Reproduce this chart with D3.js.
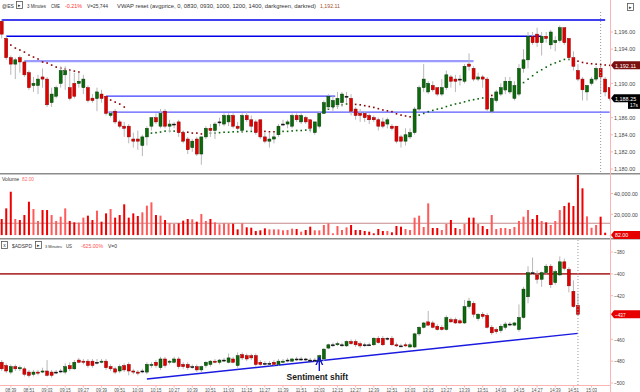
<!DOCTYPE html>
<html><head><meta charset="utf-8">
<script src="https://cdn.jsdelivr.net/npm/d3@7/dist/d3.min.js"></script>
<style>body{margin:0;background:#fff;}svg{display:block;font-family:"Liberation Sans",Arial,sans-serif;}</style>
</head><body><svg id="c" width="640" height="392"></svg>
<script>
// ---------------- DATA ----------------
const esOpen = [1197.25,1195.25,1193,1192.25,1193,1192.5,1191.25,1189.75,1189.75,1190.75,1190.5,1187.75,1188.5,1190,1191,1189.5,1190,1190,1189.5,1189.5,1188.25,1188.25,1188.75,1188.5,1186.25,1186.75,1185.5,1185,1185,1183.5,1183.5,1182.75,1183.75,1185,1186,1185,1186.75,1185,1185.25,1185.5,1184.25,1183.5,1182.5,1183.5,1181.75,1183.75,1184.75,1184.5,1185.5,1185.25,1185.5,1186.25,1185,1184.5,1186.25,1185.75,1185.5,1185.75,1183.75,1183.25,1183.5,1184,1185.25,1185.25,1185,1186.25,1185.5,1186,1185.75,1184.25,1185,1186.5,1187.25,1187.25,1187.5,1187.75,1188.5,1188.25,1187,1186.5,1186.5,1186.25,1186,1185.75,1185.5,1185.25,1185,1185,1183.75,1183.25,1183.75,1184.25,1187,1189.5,1189,1189.75,1189.5,1188.75,1189.5,1190.75,1190.5,1190.5,1190.25,1192.25,1191.75,1190.5,1190.75,1190.5,1186.75,1188,1188.75,1189.25,1189,1188.25,1188.75,1191.75,1192.75,1195.5,1195.75,1194.75,1195.5,1194.5,1194.75,1195,1196.5,1195.25,1193,1191.5,1190.5,1189,1190,1190.5,1191.75,1190.5,1189.5];
const esHigh = [1197.5,1195.5,1193.25,1193,1193.25,1192.75,1191.5,1190.75,1191,1191.75,1190.75,1189.5,1189.75,1192,1192,1191.5,1191.25,1191.25,1191,1189.75,1188.75,1189.5,1189.25,1188.5,1186.75,1187,1185.75,1185.5,1185.25,1184.25,1184.5,1184,1185,1186,1186.5,1187,1187,1185.75,1185.5,1185.75,1184.5,1183.75,1183.5,1183.75,1183.75,1185,1185.25,1185.5,1186,1186.5,1186.5,1186.5,1185.5,1186.5,1186.75,1186.25,1185.75,1185.75,1184.25,1184.25,1184.25,1185.25,1185.75,1185.75,1186.5,1186.5,1186.5,1186.25,1185.75,1185.5,1186.75,1188,1188.75,1188.5,1189,1189,1189,1188.75,1187.25,1187,1186.75,1186.5,1186.25,1186,1186,1186,1185.25,1185,1184,1184.75,1184.75,1187.25,1189.75,1192.25,1190.25,1190.25,1189.5,1190.5,1191.5,1191,1191,1191,1192.25,1193.5,1192,1191.25,1191,1190.75,1188.5,1189.25,1190,1190.75,1190.75,1190.25,1192.25,1194,1196,1196,1196.5,1196,1196,1196.25,1195.5,1196.75,1196.5,1195.25,1193.75,1192.25,1190.75,1189.75,1190.75,1192,1192,1190.75,1189.5];
const esLow = [1195.25,1192.75,1191,1190.5,1191.25,1190.75,1189.25,1189,1188.75,1189.5,1187.25,1187.25,1188.25,1189.5,1189.25,1188,1188.25,1189.5,1188.75,1187.75,1187.75,1186.75,1187.75,1186.25,1186,1185.25,1184.75,1183.75,1183,1182.5,1182.25,1181.5,1182.75,1184.5,1185.25,1184.75,1184.75,1184.25,1184.75,1183.75,1183,1181.75,1182,1181.5,1180.5,1183.5,1183.75,1183.5,1185,1185,1185,1184.75,1184.5,1184.25,1185.5,1184.5,1184,1183.5,1183,1182.5,1183,1183.75,1185,1184.75,1184.75,1185.5,1185.25,1185.25,1184.25,1184,1184.75,1186.5,1187,1186.75,1187,1187.25,1187.75,1186.25,1185.75,1185.5,1185.5,1185.25,1185.5,1184.5,1184.75,1184.75,1184.5,1183,1182.5,1182.75,1183.5,1184,1186.75,1189,1188.75,1189,1188.5,1188.5,1189.25,1189.5,1189,1189.75,1190,1191.5,1190.25,1190.25,1189.5,1186.75,1186.5,1187.75,1188.5,1188.75,1188.75,1188,1188.5,1191.25,1191.75,1194.5,1194.25,1193.25,1194.75,1194,1193.75,1194.75,1194.5,1192.75,1191.5,1190.25,1188,1188,1189.75,1190.25,1188.75,1188.5,1188];
const esClose = [1195.75,1193,1192.25,1192.75,1192.5,1191,1189.5,1190,1190.5,1190.5,1187.5,1188.75,1189.5,1191.5,1191.5,1188.25,1188.5,1190.25,1190.5,1188,1188,1189,1188.25,1186.5,1186.5,1185.5,1185,1184.75,1183.75,1183.25,1183.25,1183.75,1184.75,1186,1185.5,1186.5,1185,1185.25,1185.25,1184.25,1183.25,1182.25,1183.25,1181.75,1183.75,1184.75,1184.5,1185.25,1185.5,1186.25,1186.25,1185,1184.75,1186.25,1185.75,1185,1184.25,1183.75,1183.25,1183.5,1183.75,1185,1185.25,1185.5,1186.25,1185.75,1186.25,1185.5,1184.75,1185.5,1186.5,1187.75,1188.5,1188,1188.25,1188.75,1188.5,1186.75,1186.25,1186.25,1186,1185.75,1185.75,1185,1185,1185.75,1184.75,1183.25,1183.25,1184,1184.25,1187,1189.5,1190.5,1190,1189.25,1188.75,1189.5,1191,1190.25,1190.25,1190.5,1192,1192,1190.5,1190.75,1190.5,1187,1188.25,1189,1189.5,1190.25,1190.25,1189.75,1191.75,1192.75,1195.5,1194.75,1194.75,1195.5,1195.25,1196,1195,1196.5,1194.75,1193,1192,1190.5,1189.25,1189.75,1190.5,1191.75,1190.75,1189,1188.25];
const vwap = [null,null,1194.48,1194.13,1193.9,1193.66,1193.31,1193.08,1192.85,1192.5,1192.38,1192.14,1191.91,1191.79,1191.68,1191.56,1191.44,1191.33,null,null,1188.25,1188.3,1188.3,1188.29,1188.06,1187.82,1187.59,1187.24,null,null,null,null,1183.97,1184.2,1184.25,1184.32,1184.43,1184.43,1184.43,1184.32,1184.3,1184.3,1184.2,1184.2,1184.1,1184.15,1184.2,1184.2,1184.25,1184.3,1184.3,1184.35,1184.35,1184.35,1184.4,1184.4,1184.4,1184.45,1184.4,1184.35,1184.35,1184.35,1184.4,1184.4,1184.45,1184.5,1184.5,1184.55,1184.55,null,1186.2,1186.6,1187,1187.2,1187.35,1187.5,1187.6,1187.6,1187.55,1187.5,1187.4,1187.3,1187.2,1187.05,1186.9,1186.8,1186.7,1186.45,1186.3,1186.2,1186.1,1186.15,1186.3,1186.5,1186.7,1186.85,1187,1187.1,1187.3,1187.45,1187.6,1187.7,1187.85,1188,1188.1,1188.2,1188.3,1188.4,1188.6,1188.8,1189,1189.2,1189.4,1189.6,1189.8,1190.1,1190.5,1190.9,1191.3,1191.6,1191.9,1192.2,1192.4,1192.6,1192.8,1192.8,1192.75,1192.6,1192.45,1192.35,1192.3,1192.25,1192.2,1192.15,1192.11];
const volume = [15500,25700,41700,15500,14500,19300,32100,25100,13600,24100,24100,19300,13600,17700,25700,13600,12300,12000,16800,18700,14500,23500,12900,20900,25100,16800,19300,29600,16800,20900,18400,21900,28300,31500,19300,18700,14500,11300,10700,11300,13900,15500,15200,12900,20300,13600,15500,12300,10400,11300,11000,11000,5500,11300,7500,7100,3900,4600,6500,5500,5500,5500,4600,4900,6200,5900,3300,4900,8100,4600,4600,9700,11300,1700,8750,4900,7450,9700,4900,4900,3940,3300,1700,5860,3940,3940,2660,8750,8100,5860,4900,16760,18690,7790,30540,6830,6830,4900,10670,14520,6830,5860,10670,16760,16760,10670,8750,5860,19330,5860,6830,6830,5860,7790,13560,17720,24130,15480,19330,13560,12280,9710,13560,24100,28000,31200,28000,58000,45000,18000,7100,9700,17700,2300,82];
const volAverage = 11400;
const adOpen = [-481,-484,-490,-485,-487,-487,-490,-492,-490,-490,-489,-490,-490,-489,-490,-484,-487,-479,-480,-480,-480,-481,-481,-480,-485,-487,-489,-484,-483,-489,-490,-489,-490,-484,-481,-486,-478,-481,-481,-478,-483,-483,-485,-485,-488,-484,-483,-480,-481,-479,-481,-478,-484,-474,-475,-475,-475,-481,-482,-482,-481,-483,-481,-479,-480,-478,-478,-478,-479,-479,-480,-478,-468,-465,-465,-465,-466,-462,-462,-464,-465,-465,-465,-459,-459,-459,-459,-465,-466,-465,-467,-467,-455,-449,-444,-445,-448,-449,-451,-442,-442,-443,-445,-430,-427,-441,-437,-438,-449,-451,-452,-449,-446,-447,-451,-440,-421,-399,-401,-405,-399,-393,-408,-401,-389,-396,-416,-429];
const adHigh = [-479,-482,-483,-483,-484,-485,-488,-488,-488,-486,-479,-488,-488,-487,-482,-481,-479,-477,-478,-478,-478,-478,-478,-478,-483,-485,-483,-482,-481,-487,-488,-487,-481,-481,-479,-476,-476,-479,-476,-476,-481,-481,-483,-483,-484,-480,-479,-478,-478,-477,-473,-476,-472,-472,-473,-473,-473,-479,-480,-480,-479,-478,-478,-477,-477,-476,-476,-477,-477,-477,-474,-468,-464,-463,-462,-463,-461,-460,-460,-462,-463,-463,-458,-457,-457,-458,-457,-463,-464,-463,-463,-454,-448,-444,-434,-443,-446,-447,-438,-440,-440,-441,-424,-422,-425,-436,-435,-436,-447,-449,-446,-444,-444,-444,-428,-412,-393,-385,-397,-398,-391,-391,-396,-384,-386,-394,-406,-418];
const adLow = [-489,-491,-492,-489,-489,-494,-495,-494,-493,-491,-494,-495,-492,-491,-492,-489,-488,-482,-483,-486,-486,-483,-482,-488,-489,-492,-491,-490,-493,-492,-493,-491,-492,-486,-486,-488,-486,-483,-482,-487,-487,-488,-487,-490,-490,-486,-485,-482,-483,-481,-482,-482,-486,-479,-480,-479,-485,-484,-484,-484,-484,-484,-482,-481,-481,-480,-480,-480,-480,-481,-484,-480,-469,-467,-466,-467,-467,-465,-467,-468,-467,-466,-466,-464,-466,-461,-466,-467,-467,-467,-468,-468,-457,-450,-448,-450,-452,-452,-452,-445,-446,-446,-446,-432,-440,-443,-441,-450,-456,-455,-454,-451,-448,-448,-453,-441,-427,-401,-409,-412,-400,-413,-410,-402,-397,-417,-431,-438];
const adClose = [-487,-489,-485,-487,-486,-492,-493,-490,-491,-489,-493,-493,-490,-489,-485,-487,-481,-481,-481,-484,-484,-481,-480,-486,-487,-490,-485,-488,-489,-490,-491,-489,-483,-483,-484,-478,-484,-480,-478,-485,-485,-486,-485,-488,-485,-481,-480,-481,-479,-479,-477,-481,-475,-477,-478,-477,-483,-483,-482,-482,-483,-480,-480,-479,-478,-478,-478,-478,-479,-479,-475,-469,-465,-465,-464,-465,-462,-464,-465,-466,-465,-465,-459,-463,-465,-459,-465,-466,-466,-466,-465,-455,-449,-445,-447,-449,-451,-451,-440,-444,-445,-445,-430,-425,-437,-437,-439,-449,-454,-453,-448,-446,-446,-445,-440,-414,-399,-399,-405,-399,-393,-410,-398,-389,-395,-411,-430,-437];
const timeLabels = ["08:39","08:51","09:03","09:15","09:27","09:39","09:51","10:03","10:15","10:27","10:39","10:51","11:03","11:15","11:27","11:39","11:51","12:03","12:15","12:27","12:39","12:51","13:03","13:15","13:27","13:39","13:51","14:03","14:15","14:27","14:39","14:51","15:03"];
const firstBarTime = "08:33";
const priceTicks = [1180,1182,1184,1186,1190,1194,1196];
const volTicks = [20000,40000];
const adTicks = [-500,-480,-460,-420,-400,-380];
// horizontal levels on price chart: price, start bar, end bar
const levelPrice = [1197.4,1195.5,1192.6,1188.5,1186.65];
const levelFrom = [0,1,5,23,23.5];
const levelTo = [133,119,104,73.5,134];
const adLevel = -400;
const trendFrom = [32,-496.4];
const trendTo = [127,-454.5];
const lastPrice = 1188.25, lastVwap = 1192.11, lastVol = 82, lastAd = -437;
const cursorBarMain = 132, cursorBarAd = 127, shiftBar = 70;

// ---------------- DRAW ----------------
const svg = d3.select("#c");
const R = 610;
const x = d3.scaleLinear().domain([0,134]).range([1.7,609.7]);
const yM = d3.scaleLinear().domain([1180,1196]).range([169,32]);
const yV = d3.scaleLinear().domain([0,40000]).range([235.1,193.5]);
const yA = d3.scaleLinear().domain([-500,-380]).range([383,252]);
const UP="#0b6b0b", DN="#e00000";

const defs = svg.append("defs");
function clip(id,y0,y1){defs.append("clipPath").attr("id",id).append("rect").attr("x",0).attr("y",y0).attr("width",R).attr("height",y1-y0);}
clip("cm",10,173); clip("cv",175,238); clip("ca",240,385);
const mk = defs.append("marker").attr("id","ah").attr("viewBox","0 0 10 10").attr("refX",5).attr("refY",5)
  .attr("markerWidth",6).attr("markerHeight",6).attr("orient","auto");
mk.append("path").attr("d","M0,1 L9,5 L0,9").attr("fill","none").attr("stroke","#1010d0").attr("stroke-width",1.6);

function candles(g, data, y){
  g.selectAll("line.wk").data(data).join("line").attr("class","wk")
    .attr("x1",d=>x(d.i)).attr("x2",d=>x(d.i)).attr("y1",d=>y(d.h)).attr("y2",d=>y(d.l))
    .attr("stroke","#b8b8b8").attr("stroke-width",1);
  g.selectAll("rect.bd").data(data).join("rect").attr("class","bd")
    .attr("x",d=>x(d.i)-1.5).attr("width",3)
    .attr("y",d=>Math.min(y(d.o),y(d.c)))
    .attr("height",d=>Math.max(1,Math.abs(y(d.o)-y(d.c))))
    .attr("fill",d=>d.c>d.o?UP:d.c<d.o?DN:"#111")
    .attr("stroke",d=>d.c>d.o?"#063806":d.c<d.o?"#8a0000":"#111").attr("stroke-width",0.5);
}

// ---- main panel
const gM = svg.append("g").attr("clip-path","url(#cm)");
const lvlColor=["#0000e8","#0000e8","#9a9aff","#3c3cff","#5a5aff"], lvlW=[1.5,1.5,2.2,1.3,1.3];
levelPrice.forEach((p,k)=>gM.append("line").attr("x1",x(levelFrom[k])).attr("x2",x(levelTo[k]))
  .attr("y1",yM(p)).attr("y2",yM(p)).attr("stroke",lvlColor[k]).attr("stroke-width",lvlW[k]));
const es = esOpen.map((o,i)=>({i,o,h:esHigh[i],l:esLow[i],c:esClose[i]}));
const vw = vwap.map((v,i)=>({i,v,c:esClose[i]})).filter(d=>d.v!==null);
gM.selectAll("rect.vw").data(vw).join("rect").attr("class","vw")
  .attr("x",d=>x(d.i)-0.75).attr("y",d=>yM(d.v)-0.75).attr("width",1.6).attr("height",1.6)
  .attr("fill",d=>d.c>=d.v?"#0a640a":"#8b0000");
candles(gM, es, yM);
gM.append("line").attr("x1",x(cursorBarMain)).attr("x2",x(cursorBarMain)).attr("y1",0).attr("y2",173)
  .attr("stroke","#999").attr("stroke-dasharray","1,2");

// ---- volume panel
const gV = svg.append("g").attr("clip-path","url(#cv)");
gV.append("line").attr("x1",0).attr("x2",R).attr("y1",yV(volAverage)).attr("y2",yV(volAverage))
  .attr("stroke","#c58a8a").attr("stroke-width",1);
gV.selectAll("rect").data(volume.map((v,i)=>({i,v,up:esClose[i]>=esOpen[i]}))).join("rect")
  .attr("x",d=>x(d.i)-1).attr("width",2).attr("y",d=>yV(d.v)).attr("height",d=>yV(0)-yV(d.v))
  .attr("fill",d=>d.up?"#ff5a5a":"#ee0000");

// ---- ADSPD panel
const gA = svg.append("g").attr("clip-path","url(#ca)");
gA.append("line").attr("x1",0).attr("x2",R).attr("y1",yA(adLevel)).attr("y2",yA(adLevel))
  .attr("stroke","#b03a3a").attr("stroke-width",1.6);
gA.append("line").attr("x1",x(trendFrom[0])).attr("y1",yA(trendFrom[1])).attr("x2",x(trendTo[0])).attr("y2",yA(trendTo[1]))
  .attr("stroke","#1a1ae0").attr("stroke-width",1.4);
const ad = adOpen.map((o,i)=>({i,o,h:adHigh[i],l:adLow[i],c:adClose[i]}));
candles(gA, ad, yA);
gA.append("line").attr("x1",x(cursorBarAd)).attr("x2",x(cursorBarAd)).attr("y1",240).attr("y2",385)
  .attr("stroke","#999").attr("stroke-dasharray","1,2");
// annotation
svg.append("line").attr("x1",x(shiftBar)).attr("x2",x(shiftBar)).attr("y1",371).attr("y2",361)
  .attr("stroke","#1010d0").attr("stroke-width",1.4).attr("marker-end","url(#ah)");
svg.append("text").attr("x",x(shiftBar)-2).attr("y",380).attr("text-anchor","middle")
  .attr("font-size",8.5).attr("font-weight","bold").attr("fill","#1a1a1a").text("Sentiment shift");

// ---- separators
[173.8,238.8].forEach(y=>svg.append("line").attr("x1",0).attr("x2",640).attr("y1",y).attr("y2",y).attr("stroke","#8c8c8c").attr("stroke-width",1.6));

// ---- right axis
svg.append("line").attr("x1",R+0.5).attr("x2",R+0.5).attr("y1",0).attr("y2",392).attr("stroke","#ffb4b4");
const fmt2 = d3.format(",.2f");
function fitText(sel,s,fs,perChar){ sel.attr("font-size",fs).text(s).attr("textLength",s.length*perChar).attr("lengthAdjust","spacingAndGlyphs"); return sel;}
function rightTicks(vals,y,f){
  vals.forEach(v=>{
    svg.append("line").attr("x1",R+1).attr("x2",R+3).attr("y1",y(v)).attr("y2",y(v)).attr("stroke","#ffb4b4");
    fitText(svg.append("text").attr("x",R+4).attr("y",y(v)+2.2).attr("fill","#4a4a4a"),f(v),6,2.65);
  });
}
rightTicks(priceTicks,yM,fmt2); rightTicks(volTicks,yV,fmt2); rightTicks(adTicks,yA,d3.format("d"));
function flag(y,txt,bg,w){
  svg.append("path").attr("d",`M${R+1},${y} L${R+4},${y-4} L${R+4+w},${y-4} L${R+4+w},${y+4} L${R+4},${y+4} Z`).attr("fill",bg);
  fitText(svg.append("text").attr("x",R+5).attr("y",y+2.3).attr("fill","#fff"),txt,6,2.65);
}
flag(yM(lastVwap),fmt2(lastVwap),"#7a1010",26);
flag(yM(lastPrice),fmt2(lastPrice),"#000",26);
svg.append("rect").attr("x",628).attr("y",yM(lastPrice)+3.5).attr("width",12).attr("height",7).attr("fill","#000");
fitText(svg.append("text").attr("x",630).attr("y",yM(lastPrice)+9).attr("fill","#fff"),"17s",5.5,2.6);
flag(yV(lastVol),fmt2(lastVol),"#e60000",26);
flag(yA(lastAd),d3.format("d")(lastAd),"#e60000",26);

// ---- bottom time axis
svg.append("line").attr("x1",0).attr("x2",R).attr("y1",385.5).attr("y2",385.5).attr("stroke","#ffb4b4");
const toMin = s=>+s.slice(0,2)*60 + +s.slice(3);
timeLabels.forEach(t=>{
  const i=(toMin(t)-toMin(firstBarTime))/3;
  svg.append("line").attr("x1",x(i)).attr("x2",x(i)).attr("y1",385.5).attr("y2",387.5).attr("stroke","#ffb4b4");
  fitText(svg.append("text").attr("x",x(i)-5.5).attr("y",392).attr("fill","#505050"),t,6,2.2);
});

// ---- headers
function boxIcon(x0,y0,ch){
  svg.append("rect").attr("x",x0+0.5).attr("y",y0+0.5).attr("width",6).attr("height",7).attr("fill","#fff").attr("stroke","#555").attr("stroke-width",0.8);
  svg.append("text").attr("x",x0+3.5).attr("y",y0+6).attr("text-anchor","middle").attr("font-size",5).attr("fill","#333").text(ch);
}
function t(x0,y0,s,col,len,fs){const e=svg.append("text").attr("x",x0).attr("y",y0).attr("font-size",fs||6).attr("fill",col).text(s); if(len) e.attr("textLength",len).attr("lengthAdjust","spacingAndGlyphs");}
t(2,8,"@ES","#333",12); boxIcon(16,1,"▸");
t(27,8,"3 Minutes","#333",19,5.5); t(51,8,"CME","#333",9,5.5); t(65,8,"-0.21%","#ff3030",17); t(87,8,"V=25,744","#333",21);
t(117,8,"VWAP reset (avgprice, 0, 0830, 0930, 1000, 1200, 1400, darkgreen, darkred)","#333",199);
t(320,8,"1,192.11","#a0522d",20);
boxIcon(627,3,"▸");
t(2,181,"Volume","#333",17); t(22,181,"82.00","#ff7070",12);
boxIcon(1,241,"x");
t(12,248,"$ADSPD","#333",20); boxIcon(35,241,"▸");
t(45,248,"3 Minutes","#333",17,4.4); t(66,248,"US","#333",6,5); t(81,248,"-625.00%","#ff5050",22); t(108,248,"V=0","#333",9);
</script></body></html>
